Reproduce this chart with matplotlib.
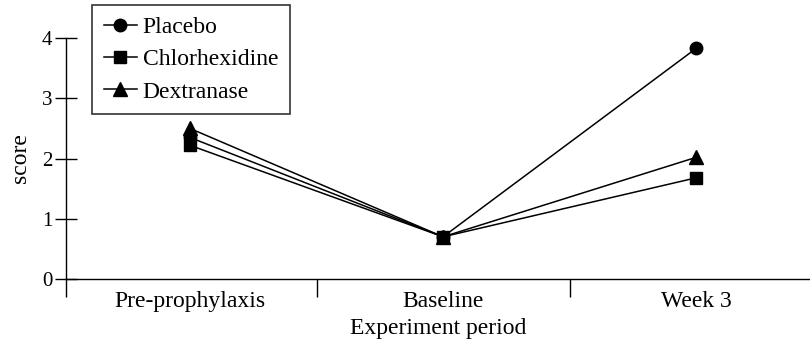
import numpy as np
import matplotlib.pyplot as plt

plt.rcParams['font.family'] = ['Liberation Serif', 'DejaVu Serif']

# data
periods = ['Pre-prophylaxis', 'Baseline', 'Week 3']
placebo = [2.35, 0.70, 3.83]
chlorhexidine = [2.22, 0.70, 1.68]
dextranase = [2.50, 0.70, 2.02]

series = [('Placebo', placebo, 'o', 9),
          ('Chlorhexidine', chlorhexidine, 's', 8),
          ('Dextranase', dextranase, '^', 10)]

fig = plt.figure(figsize=(8.1, 3.5), dpi=100)
ax = fig.add_axes([0.0815, 0.203, 0.9185, 0.688])

x = np.arange(len(periods))
for name, vals, mk, ms in series:
    ax.plot(x, vals, color='black', lw=1.1, marker=mk, markersize=ms,
            label=name)

ax.set_xlim(-0.49, 2.45)
ax.set_ylim(0, 4)

ax.spines['top'].set_visible(False)
ax.spines['right'].set_visible(False)
ax.spines['left'].set_linewidth(1.0)
ax.spines['bottom'].set_linewidth(1.0)

# category labels centered, boundary ticks between categories
ax.set_xticks(x)
ax.set_xticklabels(periods, fontsize=17)
ax.tick_params(axis='x', which='major', length=0, pad=9)
ax.set_xticks([-0.49, 0.5, 1.5], minor=True)
ax.tick_params(axis='x', which='minor', direction='out', length=13, width=1)

ax.set_yticks([0, 1, 2, 3, 4])
ax.tick_params(axis='y', direction='inout', length=16, width=1, labelsize=15, pad=2)

ax.set_xlabel('Experiment period', fontsize=17, labelpad=4)
ax.set_ylabel('score', fontsize=17, labelpad=8)

leg = ax.legend(loc='upper left', bbox_to_anchor=(92 / 810, 1 - 5 / 350),
                bbox_transform=fig.transFigure, fontsize=17, frameon=True,
                fancybox=False, edgecolor='black', handlelength=1.4,
                handletextpad=0.25, labelspacing=0.45, borderpad=0.5,
                borderaxespad=0)
leg.get_frame().set_linewidth(1.2)

fig.savefig('out.png', dpi=100)
